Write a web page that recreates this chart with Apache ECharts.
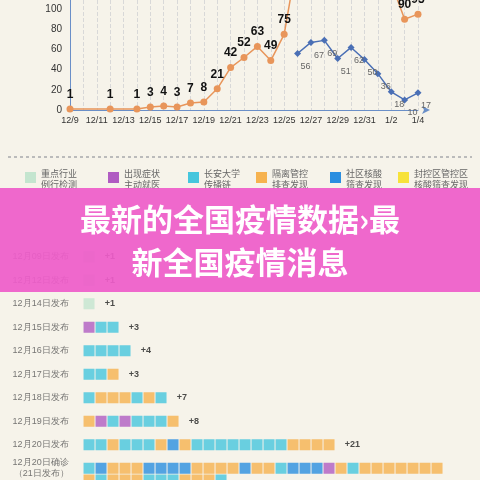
<!DOCTYPE html>
<html><head><meta charset="utf-8">
<script src="https://cdn.jsdelivr.net/npm/echarts@6/dist/echarts.min.js"></script>
<style>html,body{margin:0;padding:0;background:#f6f3ea}#c{width:480px;height:480px}</style>
</head><body><div id="c"></div>
<script>
const dates = ['12/9','12/10','12/11','12/12','12/13','12/14','12/15','12/16','12/17','12/18','12/19','12/20','12/21','12/22','12/23','12/24','12/25','12/26','12/27','12/28','12/29','12/30','12/31','1/1','1/2','1/3','1/4'];
const orangeVals = [1,null,null,1,null,1,3,4,3,7,8,21,42,52,63,49,75,151,160,165,158,150,145,135,126,90,95];
const blueVals = [null,null,null,null,null,null,null,null,null,null,null,null,null,null,null,null,null,56,67,69,51,62,50,36,18,10,17];
const legendNames = ['重点行业\n例行检测','出现症状\n主动就医','长安大学\n传播链','隔离管控\n排查发现','社区核酸\n筛查发现','封控区管控区\n核酸筛查发现'];
const colors = ['#c4e5cf','#b05cc2','#46c6dd','#f6b24f','#2b8ee0','#f7e23a'];
const rowLabels = ['12月09日发布','12月12日发布','12月14日发布','12月15日发布','12月16日发布','12月17日发布','12月18日发布','12月19日发布','12月20日发布','12月20日确诊\n（21日发布）'];
const rowTotals = ['+1','+1','+1','+3','+4','+3','+7','+8','+21','+42'];
const rowBlocks = [
 [0],[0],[0],[1,2,2],[2,2,2,2],[2,2,3],[2,3,3,3,2,3,2],[3,1,2,1,2,2,2,3],
 [2,2,3,2,2,2,3,4,3,2,2,2,2,2,2,2,2,3,3,3,3],
 [2,4,3,3,3,4,4,4,4,3,3,3,3,4,3,3,2,4,4,4,1,3,2,3,3,3,3,3,3,3]
];
const rowExtra = [3,2,3,3,3,2,2,2,3,3,3,2];
const titleLines = ['最新的全国疫情数据›最','新全国疫情消息'];

const blocks = [];
rowBlocks.forEach((r,ri)=>r.forEach((c,i)=>blocks.push({value:[i,ri],itemStyle:{color:colors[c]}})));
rowExtra.forEach((c,i)=>blocks.push({value:[i,9.5],itemStyle:{color:colors[c]}}));
const totals = rowTotals.slice(0,9).map((t,ri)=>({value:[rowBlocks[ri].length-0.1,ri],name:t}));
const names = rowLabels.map((t,ri)=>({value:[-1.2,ri],name:t}));

const legendG = [];
const lx=[25,108,188,256,330,398];
legendNames.forEach((n,i)=>{
  legendG.push({type:'rect',left:lx[i],top:172,shape:{width:11,height:11},style:{fill:colors[i]}});
  legendG.push({type:'text',left:lx[i]+16,top:168,style:{text:n,fill:'#666',font:'9px "Noto Sans CJK SC"',lineHeight:11}});
});

const chart = echarts.init(document.getElementById('c'));
chart.setOption({
  backgroundColor:'#f6f3ea',
  animation:false,
  grid:[{left:70,right:62,top:0,height:110},{left:0,width:480,top:245,height:236}],
  xAxis:[{type:'category',data:dates,boundaryGap:false,gridIndex:0,
    axisLine:{lineStyle:{color:'#6a8fc8'},symbol:['none','arrow'],symbolSize:[6,8],symbolOffset:[0,12]},
    axisTick:{show:false},
    axisLabel:{interval:1,color:'#333',fontSize:9,margin:6},
    splitLine:{show:true,interval:0,lineStyle:{color:'#d8d8d8',type:'dashed'}}},
   {type:'value',gridIndex:1,min:-7.42,max:32.58,show:false}],
  yAxis:[{type:'value',gridIndex:0,min:0,max:109,interval:20,
    axisLine:{show:true,lineStyle:{color:'#6a8fc8'}},axisTick:{show:false},splitLine:{show:false},
    axisLabel:{color:'#333',fontSize:10,formatter:v=>v%20===0?v:''}},
   {type:'value',gridIndex:1,min:-0.5,max:9.5,inverse:true,show:false}],
  series:[
   {type:'line',data:orangeVals,connectNulls:true,color:'#e8955a',symbol:'circle',symbolSize:7,lineStyle:{width:1.5},
    label:{show:true,position:'top',color:'#111',fontWeight:'bold',fontSize:12,formatter:p=>p.value>109?'':p.value}},
   {type:'line',data:blueVals,color:'#4a6fb5',symbol:'diamond',symbolSize:7,lineStyle:{width:1.5},
    label:{show:true,position:'bottom',offset:[8,0],color:'#666',fontSize:9}},
   {type:'scatter',xAxisIndex:1,yAxisIndex:1,symbol:'rect',symbolSize:[11,11],data:blocks,clip:false},
   {type:'scatter',xAxisIndex:1,yAxisIndex:1,symbolSize:2,itemStyle:{color:'rgba(0,0,0,0)'},data:totals,
    label:{show:true,position:'right',distance:4,formatter:'{b}',color:'#222',fontSize:9,fontWeight:'bold'}},
   {type:'scatter',xAxisIndex:1,yAxisIndex:1,symbolSize:2,itemStyle:{color:'rgba(0,0,0,0)'},data:names,
    label:{show:true,position:'left',formatter:'{b}',color:'#555',fontSize:9,align:'right',lineHeight:11}}
  ],
  graphic:[
   {type:'line',shape:{x1:8,y1:157,x2:472,y2:157},style:{stroke:'#bbb',lineDash:[3,3],lineWidth:2}},
   ...legendG,
   {type:'rect',left:0,top:188,shape:{width:480,height:104},style:{fill:'rgba(238,92,201,0.93)'},z:100},
   {type:'text',left:'center',top:204,z:101,style:{text:titleLines[0],fill:'#fff',font:'bold 31px "Noto Sans CJK SC"',shadowColor:'rgba(0,0,0,0.3)',shadowBlur:3}},
   {type:'text',left:'center',top:247,z:101,style:{text:titleLines[1],fill:'#fff',font:'bold 31px "Noto Sans CJK SC"',shadowColor:'rgba(0,0,0,0.3)',shadowBlur:3}}
  ]
});
</script></body></html>
